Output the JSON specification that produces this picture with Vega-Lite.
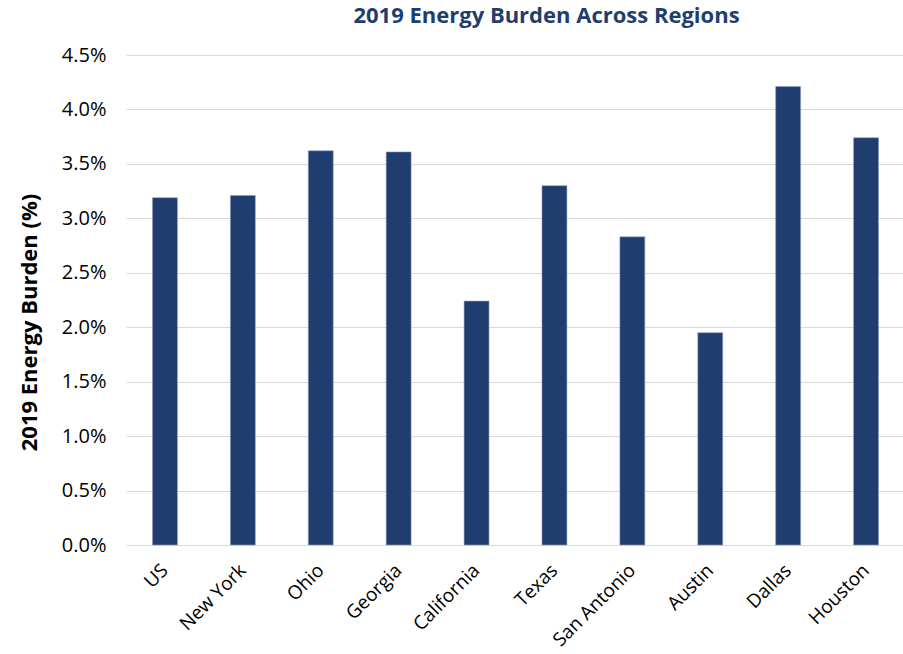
{
  "$schema": "https://vega.github.io/schema/vega-lite/v6.json",
  "autosize": {"type": "none"},
  "width": 779,
  "height": 490,
  "padding": {"left": 126, "top": 55, "right": 0, "bottom": 109},
  "background": "white",
  "title": {
    "text": "2019 Energy Burden Across Regions",
    "font": "Open Sans",
    "fontSize": 22,
    "fontWeight": "bold",
    "color": "#1F3E6E",
    "anchor": "middle",
    "dx": 31,
    "offset": 17
  },
  "data": {
    "values": [
      {"region": "US", "burden": 0.0319},
      {"region": "New York", "burden": 0.0321},
      {"region": "Ohio", "burden": 0.0362},
      {"region": "Georgia", "burden": 0.0361},
      {"region": "California", "burden": 0.0224},
      {"region": "Texas", "burden": 0.0330},
      {"region": "San Antonio", "burden": 0.0283},
      {"region": "Austin", "burden": 0.0195},
      {"region": "Dallas", "burden": 0.0421},
      {"region": "Houston", "burden": 0.0374}
    ]
  },
  "mark": {"type": "bar", "color": "#1F3D6F", "stroke": "#8FA0BC", "strokeWidth": 0.6},
  "encoding": {
    "x": {
      "field": "region",
      "type": "nominal",
      "sort": null,
      "scale": {"paddingInner": 0.68, "paddingOuter": 0.34},
      "axis": {
        "title": null,
        "labelAngle": -45,
        "labelAlign": "right",
        "labelBaseline": "middle",
        "labelFont": "Open Sans",
        "labelFontSize": 19,
        "labelColor": "#000000",
        "labelPadding": 22,
        "ticks": false,
        "domain": false
      }
    },
    "y": {
      "field": "burden",
      "type": "quantitative",
      "scale": {"domain": [0, 0.045], "nice": false},
      "axis": {
        "title": "2019 Energy Burden (%)",
        "titleFont": "Open Sans",
        "titleFontSize": 22,
        "titleFontWeight": "bold",
        "titleColor": "#000000",
        "titlePadding": 20,
        "titleY": 267,
        "values": [0, 0.005, 0.01, 0.015, 0.02, 0.025, 0.03, 0.035, 0.04, 0.045],
        "format": ".1%",
        "labelFont": "Open Sans",
        "labelFontSize": 20,
        "labelColor": "#000000",
        "labelPadding": 20,
        "ticks": false,
        "domain": false,
        "grid": true,
        "gridColor": "#D9D9D9",
        "gridWidth": 1.2
      }
    }
  },
  "config": {"view": {"stroke": null}}
}
